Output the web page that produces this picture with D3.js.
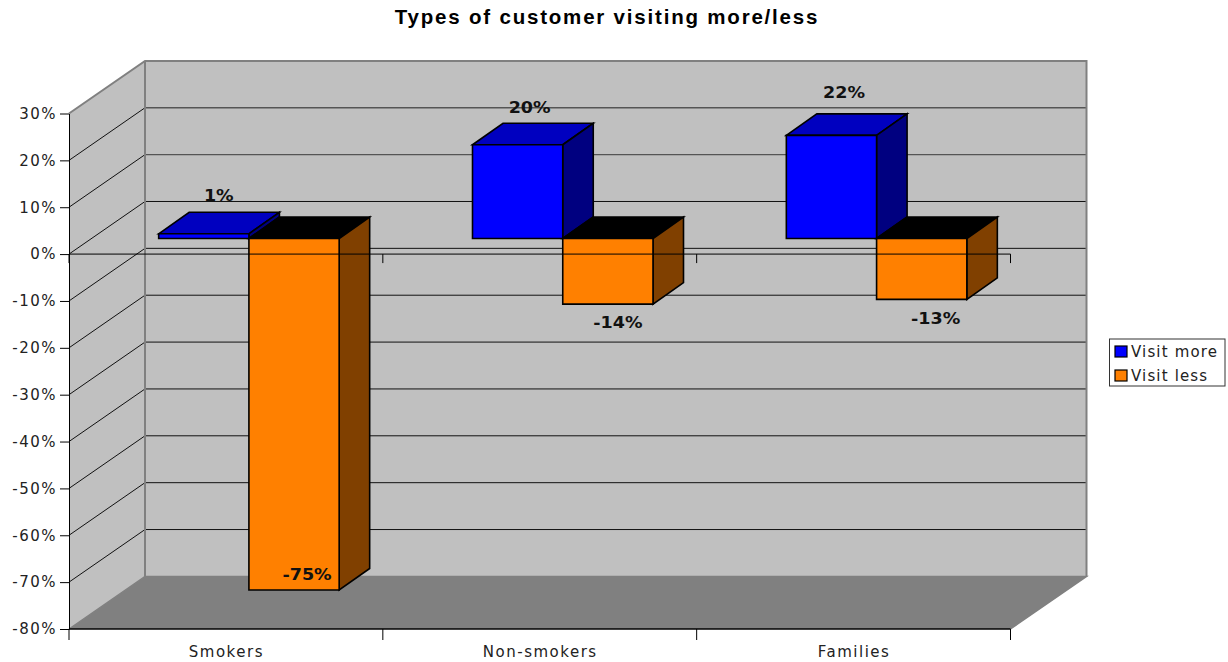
<!DOCTYPE html>
<html><head><meta charset="utf-8">
<script src="https://d3js.org/d3.v7.min.js"></script>
<style>html,body{margin:0;padding:0;background:#fff}svg{display:block}
text{font-family:"DejaVu Sans",sans-serif}</style></head>
<body><svg width="1228" height="662"></svg>
<script>
const categories = ["Smokers","Non-smokers","Families"];
const seriesNames = ["Visit more","Visit less"];
const visitMore = [0.01,0.20,0.22];
const visitLess = [-0.75,-0.14,-0.13];
const tickValues = [0.3,0.2,0.1,0,-0.1,-0.2,-0.3,-0.4,-0.5,-0.6,-0.7,-0.8];
const colors = [{front:"#0000ff",top:"#0000c0",side:"#000080"},{front:"#ff8000",top:"#000000",side:"#804000"}];
const title = "Types of customer visiting more/less";

const svg = d3.select("svg");
const L=69,R=1010.5,T=113.5,B=629,DX=76,DY=-52.6;
const y=d3.scaleLinear().domain([-0.8,0.3]).range([B,T]);
const x0=d3.scaleBand().domain(categories).range([L,R]);
const x1=d3.scaleBand().domain(seriesNames).range([0,180.5]);
const fmt=d=>Math.round(d*100)+"%";
const pts=a=>a.map(p=>p.join(",")).join(" ");
const poly=(g,a,fill,stroke,sw)=>g.append("polygon").attr("points",pts(a)).attr("fill",fill).attr("stroke",stroke||"none").attr("stroke-width",sw||0);

svg.append("text").attr("x",607).attr("y",24).attr("text-anchor","middle")
 .style("font-family","'Liberation Sans',sans-serif").style("font-weight","bold").style("font-size","20.5px").style("letter-spacing","1.8px").attr("fill","#000").text(title);

// walls
const walls=svg.append("g");
poly(walls,[[L+DX,T+DY],[R+DX,T+DY],[R+DX,B+DY],[L+DX,B+DY]],"#c0c0c0");
poly(walls,[[L,T],[L+DX,T+DY],[L+DX,B+DY],[L,B]],"#c0c0c0");
poly(walls,[[L,B],[L+DX,B+DY],[R+DX,B+DY],[R,B]],"#808080");
// grid
tickValues.slice(1,-1).forEach(v=>{
  const g=walls.append("g").attr("stroke",(v>0)?"#555":"#111").attr("stroke-width",(v>0)?1.4:1).attr("fill","none");
  g.append("line").attr("x1",L+DX).attr("x2",R+DX).attr("y1",y(v)+DY).attr("y2",y(v)+DY);
  g.append("line").attr("x1",L).attr("x2",L+DX).attr("y1",y(v)).attr("y2",y(v)+DY).attr("stroke","#111").attr("stroke-width",1);
});
const edge=walls.append("g").attr("stroke","#808080").attr("stroke-width",2).attr("fill","none");
edge.append("polyline").attr("points",pts([[L,T],[L+DX,T+DY],[R+DX,T+DY],[R+DX,B+DY]]));
edge.append("line").attr("x1",L+DX).attr("x2",L+DX).attr("y1",T+DY).attr("y2",B+DY);
edge.append("polyline").attr("points",pts([[L,B],[L+DX,B+DY],[R+DX,B+DY],[R,B]])).attr("stroke-width",1.5);

// bars
const dpX=30.5, dpY=-21.5, zx=23, zy=-15.6;
const base=y(0)+zy;
const barLeft=(ci,si)=>x0(categories[ci])+zx+(x0.bandwidth()-180.5)/2+x1(seriesNames[si]);
const bars=svg.append("g");
[visitMore,visitLess].forEach((vals,si)=>{
  vals.forEach((v,ci)=>{
    const xl=barLeft(ci,si);
    const xr=xl+x1.bandwidth();
    const yTop=Math.min(y(v)+zy,base), yBot=Math.max(y(v)+zy,base);
    const c=colors[si];
    poly(bars,[[xl,yTop],[xl+dpX,yTop+dpY],[xr+dpX,yTop+dpY],[xr,yTop]],c.top,"#000",1.6);
    poly(bars,[[xr,yTop],[xr+dpX,yTop+dpY],[xr+dpX,yBot+dpY],[xr,yBot]],c.side,"#000",1.6);
    poly(bars,[[xl,yTop],[xr,yTop],[xr,yBot],[xl,yBot]],c.front,"#000",1.6);
  });
});

// axes
const tickStyle=(g)=>{g.selectAll("path").attr("stroke","#000").attr("stroke-width",1);
  g.selectAll("line").attr("stroke","#000").attr("stroke-width",1);
  g.selectAll("text").attr("fill","#222").style("font-size","15px").style("font-family","'DejaVu Sans',sans-serif").style("letter-spacing","1.5px");};
svg.append("g").attr("transform",`translate(${L},0)`)
 .call(d3.axisLeft(y).tickValues(tickValues).tickFormat(fmt).tickSize(9).tickSizeOuter(0).tickPadding(3)).call(tickStyle);
const xb=d3.scaleLinear().domain([0,3]).range([L,R]);
svg.append("g").attr("transform",`translate(0,${y(0)})`)
 .call(d3.axisBottom(xb).tickValues([0,1,2,3]).tickFormat("").tickSize(9).tickSizeOuter(0).offset(0)).call(tickStyle);
const botAxis=svg.append("g").attr("transform",`translate(0,${B})`)
 .call(d3.axisBottom(xb).tickValues([0,1,2,3]).tickFormat("").tickSize(11).tickSizeOuter(0).offset(0)).call(tickStyle);
botAxis.selectAll("path").attr("stroke-width",1.5);
svg.append("g").selectAll("text").data(categories).join("text")
 .attr("x",d=>x0(d)+x0.bandwidth()/2+0.5).attr("y",657).attr("text-anchor","middle")
 .attr("fill","#222").style("font-size","15px").style("letter-spacing","1.5px").text(d=>d);

// data labels
const labels=svg.append("g").attr("fill","#111").style("font-size","15px").style("font-weight","bold").attr("text-anchor","middle");
[visitMore,visitLess].forEach((vals,si)=>{
  vals.forEach((v,ci)=>{
    const cx=barLeft(ci,si)+x1.bandwidth()/2;
    let tx, ty;
    if(v>0){
      tx=cx+[15,12,12.5][ci];
      ty=y(v)+zy+dpY-[11,10,16][ci];
    } else {
      tx=cx+[13,10,14][ci];
      ty= ci==0 ? y(v)+zy-10 : y(v)+zy+[0,24,25][ci];
    }
    labels.append("text").attr("transform",`translate(${tx},${ty}) scale(1.17,1)`).text(fmt(v));
  });
});

// legend
const lg=svg.append("g");
lg.append("rect").attr("x",1109.5).attr("y",339).attr("width",115.5).attr("height",47).attr("fill","#fff").attr("stroke","#333");
seriesNames.forEach((s,i)=>{
  const yy=346+i*24;
  lg.append("rect").attr("x",1115).attr("y",yy).attr("width",12).attr("height",11).attr("fill",colors[i].front).attr("stroke","#000").attr("stroke-width",1.2);
  lg.append("text").attr("x",1131).attr("y",yy+11).attr("fill","#222").style("font-size","15px").style("letter-spacing","1.15px").text(s);
});
</script></body></html>
